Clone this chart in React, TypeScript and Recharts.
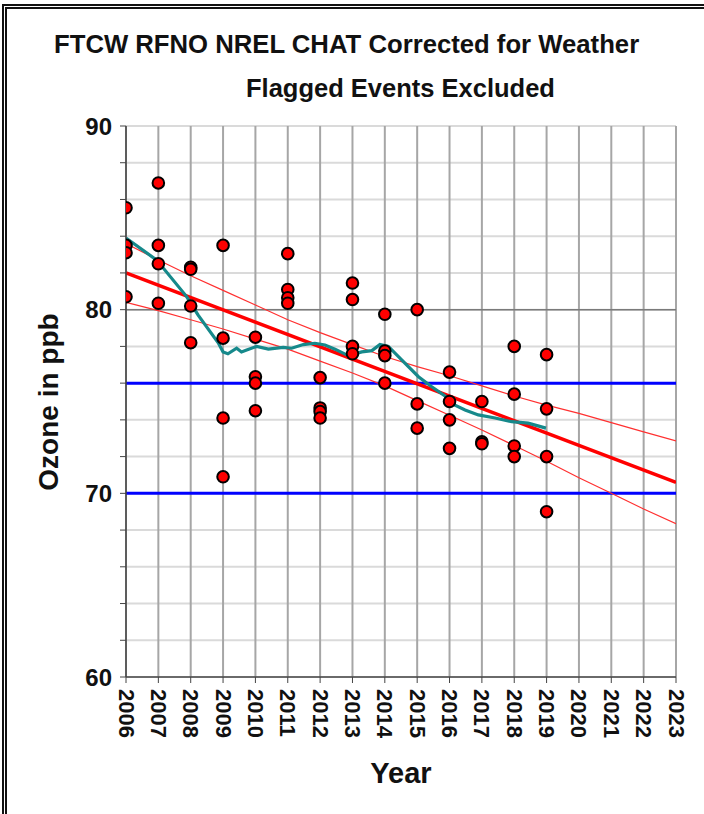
import React from "react";
import {
  ComposedChart,
  Line,
  Scatter,
  XAxis,
  YAxis,
  CartesianGrid,
  ReferenceLine,
} from "recharts";

const FONT = "'Liberation Sans', Arial, sans-serif";

// axis ticks
const YEARS = [
  2006, 2007, 2008, 2009, 2010, 2011, 2012, 2013, 2014, 2015, 2016, 2017, 2018,
  2019, 2020, 2021, 2022, 2023,
];
const Y_TICKS = [60, 62, 64, 66, 68, 70, 72, 74, 76, 78, 80, 82, 84, 86, 88, 90];

// observed ozone values per year (ppb)
const OBS_YEARS = [
  2006, 2007, 2008, 2009, 2010, 2011, 2012, 2013, 2014, 2015, 2016, 2017, 2018, 2019,
];
const OBS_VALUES = [
  [85.55, 83.5, 83.1, 80.7],
  [86.9, 83.5, 82.5, 80.35],
  [82.3, 82.2, 80.2, 78.2],
  [83.5, 78.45, 74.1, 70.9],
  [78.5, 76.35, 76.0, 74.5],
  [83.05, 81.1, 80.65, 80.35],
  [76.3, 74.65, 74.45, 74.1],
  [81.45, 80.55, 78.0, 77.6],
  [79.75, 77.75, 77.5, 76.0],
  [80.0, 74.87, 73.55],
  [76.6, 75.0, 74.0, 72.45],
  [75.0, 72.8, 72.7],
  [78.0, 75.4, 72.58, 72.0],
  [77.55, 74.6, 72.0, 69.0],
];

// smoothed (teal) curve
const SMOOTH_X = [
  2006.0, 2006.95, 2007.88, 2008.23, 2008.85, 2009.0, 2009.15, 2009.42, 2009.57,
  2009.73, 2010.04, 2010.4, 2010.86, 2011.12, 2011.48, 2011.84, 2012.15, 2012.46,
  2012.87, 2013.29, 2013.6, 2013.85, 2014.11, 2014.52, 2015.04, 2015.45, 2015.86,
  2016.17, 2016.48, 2016.89, 2017.41, 2017.92, 2018.43, 2018.98,
];
const SMOOTH_Y = [
  83.9, 82.7, 80.7, 79.7, 78.2, 77.7, 77.6, 77.9, 77.7, 77.8, 78.0, 77.85, 77.95,
  77.9, 78.1, 78.17, 78.08, 77.85, 77.5, 77.7, 77.77, 78.1, 78.0, 77.26, 76.35,
  75.8, 75.3, 74.8, 74.54, 74.27, 74.1, 73.9, 73.82, 73.55,
];

// linear trend and its confidence band
const TREND_YEARS = [2006, 2023];
const TREND = [82.0, 70.6];
const UPPER = [
  83.6, 82.7, 81.85, 81.05, 80.25, 79.45, 78.75, 78.1, 77.45, 76.9, 76.4, 75.85,
  75.3, 74.8, 74.35, 73.85, 73.35, 72.85,
];
const LOWER = [
  80.4, 79.95, 79.45, 78.95, 78.4, 77.85, 77.2, 76.55, 75.85, 75.05, 74.25, 73.45,
  72.6, 71.75, 70.85, 70.0, 69.15, 68.35,
];

const obsData = OBS_YEARS.flatMap((yr, i) =>
  OBS_VALUES[i].map((v) => ({ x: yr, y: v }))
);
const smoothData = SMOOTH_X.map((x, i) => ({ x, y: SMOOTH_Y[i] }));
const trendData = TREND_YEARS.map((x, i) => ({ x, y: TREND[i] }));
const upperData = YEARS.map((x, i) => ({ x, y: UPPER[i] }));
const lowerData = YEARS.map((x, i) => ({ x, y: LOWER[i] }));

function YTick({ x, y, payload }: any) {
  if (payload.value % 10 !== 0) return null;
  return (
    <text
      x={x - 6}
      y={y}
      textAnchor="end"
      dominantBaseline="central"
      fontFamily={FONT}
      fontWeight="bold"
      fontSize={24}
      fill="#111"
    >
      {payload.value}
    </text>
  );
}

function XTick({ x, y, payload }: any) {
  return (
    <text
      x={x}
      y={y + 4}
      transform={`rotate(90, ${x}, ${y + 4})`}
      textAnchor="start"
      dominantBaseline="central"
      fontFamily={FONT}
      fontWeight="bold"
      fontSize={22}
      fill="#111"
    >
      {payload.value}
    </text>
  );
}

function Dot({ cx, cy }: any) {
  return <circle cx={cx} cy={cy} r={5.8} fill="#ff0000" stroke="#000" strokeWidth={2} />;
}

export default function App() {
  return (
    <div
      style={{
        position: "absolute",
        left: 0,
        top: 0,
        width: 704,
        height: 814,
        overflow: "hidden",
        background: "#fff",
      }}
    >
      <div
        style={{
          position: "absolute",
          left: 2,
          top: 4,
          width: 760,
          height: 900,
          border: "5px double #111",
        }}
      />
      <div style={{ position: "absolute", left: 0, top: 0 }}>
        <ComposedChart
          width={704}
          height={814}
          margin={{ top: 126, right: 28, bottom: 0, left: 0 }}
        >
          <CartesianGrid vertical={false} stroke="#dadada" strokeWidth={2} />
          <CartesianGrid horizontal={false} stroke="#a6a6a6" strokeWidth={2} />
          <XAxis
            dataKey="x"
            type="number"
            domain={[2006, 2023]}
            ticks={YEARS}
            interval={0}
            allowDataOverflow
            height={137}
            tickSize={6}
            tickLine={{ stroke: "#444" }}
            axisLine={{ stroke: "#444", strokeWidth: 1.5 }}
            tick={<XTick />}
          />
          <YAxis
            dataKey="y"
            type="number"
            domain={[60, 90]}
            ticks={Y_TICKS}
            interval={0}
            allowDataOverflow
            width={126}
            tickSize={6}
            tickLine={{ stroke: "#444" }}
            axisLine={{ stroke: "#444", strokeWidth: 1.5 }}
            tick={<YTick />}
          />
          <ReferenceLine y={80} stroke="#7a7a7a" strokeWidth={1.5} />
          <ReferenceLine y={76} stroke="#0000ff" strokeWidth={3} />
          <ReferenceLine y={70} stroke="#0000ff" strokeWidth={3} />
          <Line
            data={upperData}
            dataKey="y"
            type="linear"
            stroke="#ff3030"
            strokeWidth={1.2}
            dot={false}
            activeDot={false}
            isAnimationActive={false}
          />
          <Line
            data={lowerData}
            dataKey="y"
            type="linear"
            stroke="#ff3030"
            strokeWidth={1.2}
            dot={false}
            activeDot={false}
            isAnimationActive={false}
          />
          <Line
            data={trendData}
            dataKey="y"
            type="linear"
            stroke="#ff0000"
            strokeWidth={3.5}
            dot={false}
            activeDot={false}
            isAnimationActive={false}
          />
          <Scatter data={obsData} dataKey="y" shape={<Dot />} isAnimationActive={false} />
          <Line
            data={smoothData}
            dataKey="y"
            type="linear"
            stroke="#16898b"
            strokeWidth={3.2}
            dot={false}
            activeDot={false}
            isAnimationActive={false}
          />
        </ComposedChart>
      </div>
      <svg
        width={704}
        height={814}
        style={{ position: "absolute", left: 0, top: 0, pointerEvents: "none" }}
      >
        <text x={54} y={53} fontFamily={FONT} fontWeight="bold" fontSize={25.7} fill="#111">
          FTCW RFNO NREL CHAT Corrected for Weather
        </text>
        <text x={246} y={97} fontFamily={FONT} fontWeight="bold" fontSize={25.5} fill="#111">
          Flagged Events Excluded
        </text>
        <text
          x={48}
          y={402}
          transform="rotate(-90, 48, 402)"
          textAnchor="middle"
          dominantBaseline="central"
          fontFamily={FONT}
          fontWeight="bold"
          fontSize={28}
          fill="#111"
        >
          Ozone in ppb
        </text>
        <text
          x={401}
          y={783}
          textAnchor="middle"
          fontFamily={FONT}
          fontWeight="bold"
          fontSize={29}
          fill="#111"
        >
          Year
        </text>
      </svg>
    </div>
  );
}
